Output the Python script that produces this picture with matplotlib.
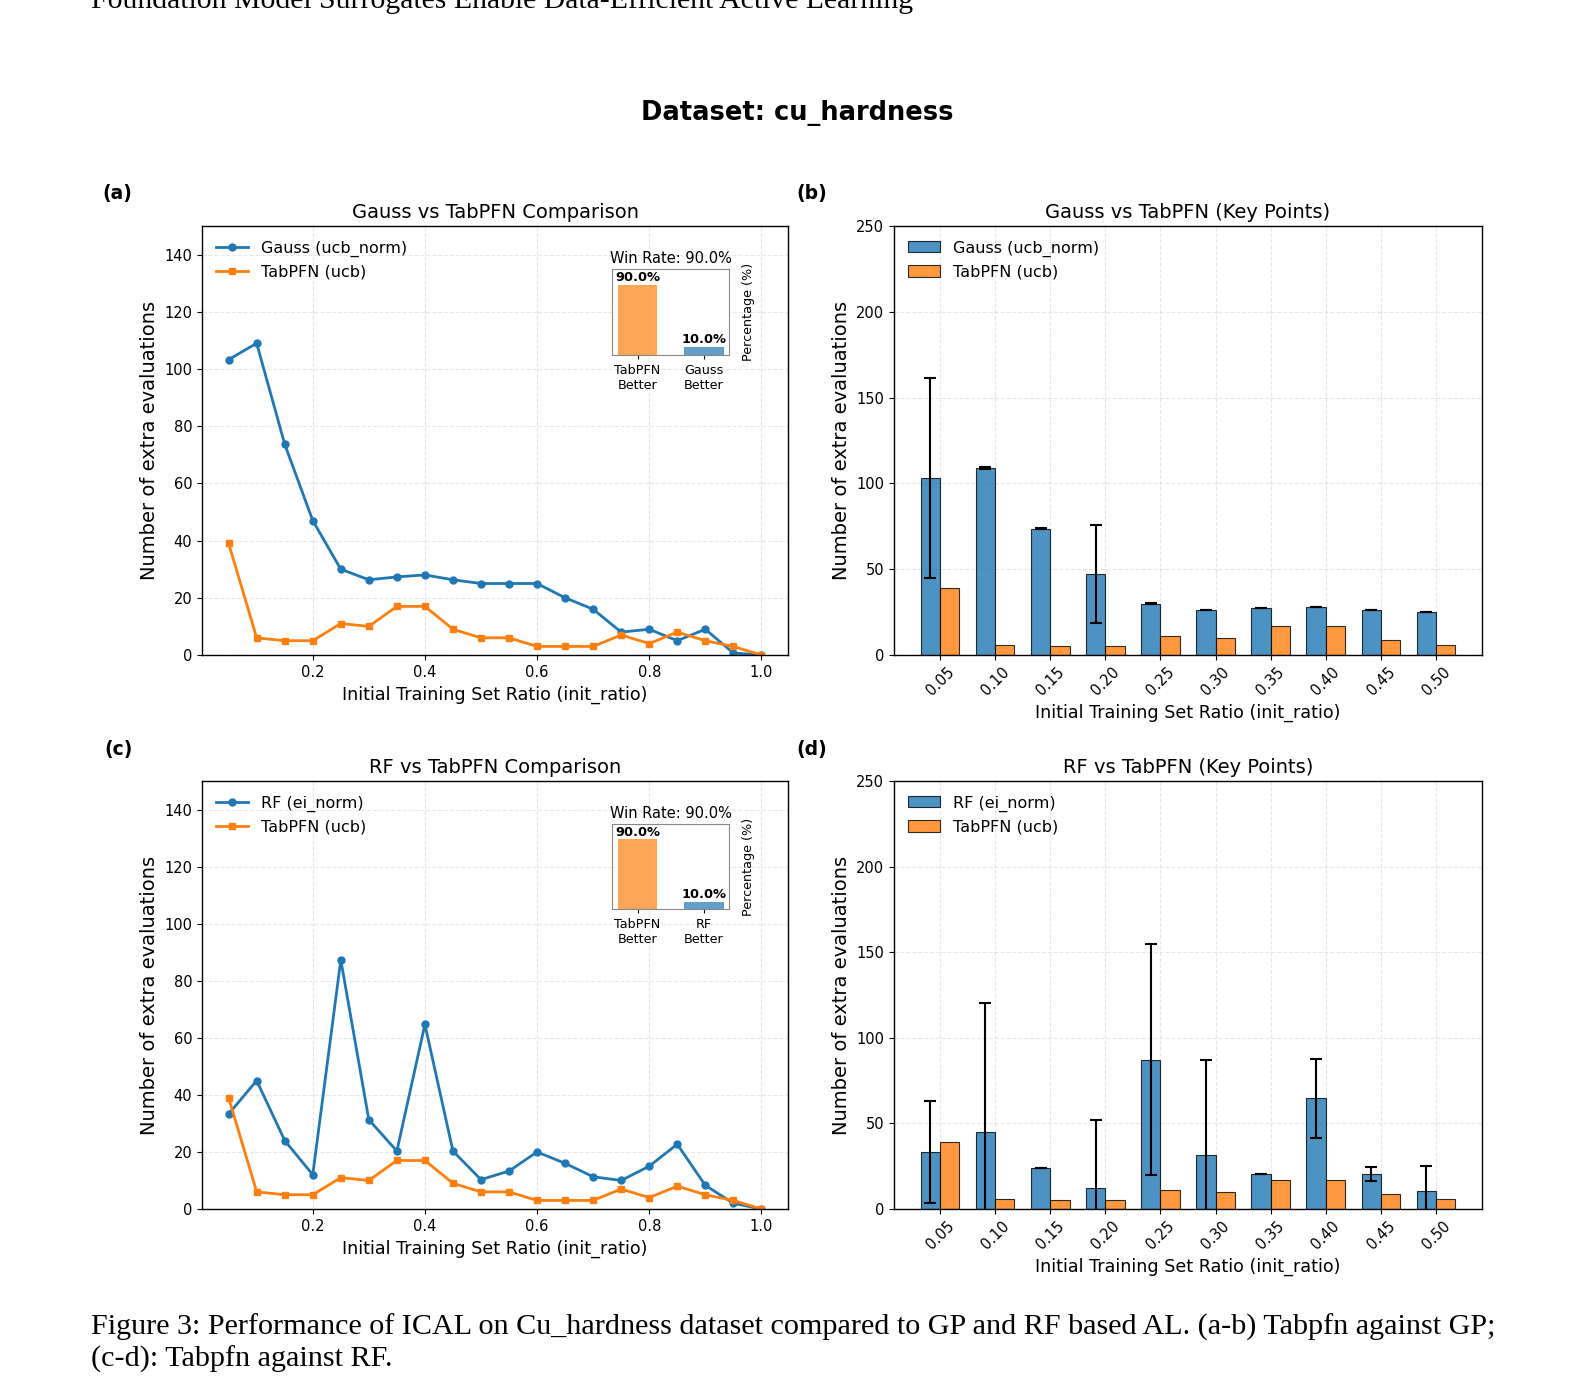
"""Recreates the cu_hardness comparison figure (Gauss / RF vs TabPFN)."""

import matplotlib.pyplot as plt

BLUE = "#1f77b4"
ORANGE = "#ff7f0e"

# line panels (a) and (c)
init_ratios = [0.05, 0.10, 0.15, 0.20, 0.25, 0.30, 0.35, 0.40, 0.45, 0.50,
               0.55, 0.60, 0.65, 0.70, 0.75, 0.80, 0.85, 0.90, 0.95, 1.00]
gauss_evals = [103.3, 109.0, 73.7, 47.0, 30.0, 26.3, 27.3, 28.0, 26.3, 25.0,
               25.0, 25.0, 20.0, 16.0, 8.0, 9.0, 5.0, 9.0, 0.7, 0.0]
rf_evals = [33.3, 45.0, 24.0, 12.0, 87.3, 31.3, 20.3, 64.7, 20.3, 10.3,
            13.3, 20.0, 16.0, 11.3, 10.0, 15.0, 22.7, 8.3, 2.0, 0.0]
tabpfn_evals = [39.0, 6.0, 5.0, 5.0, 11.0, 10.0, 17.0, 17.0, 9.0, 6.0,
                6.0, 3.0, 3.0, 3.0, 7.0, 4.0, 8.0, 5.0, 3.0, 0.0]

# bar panels (b) and (d): key points
key_labels = ["0.05", "0.10", "0.15", "0.20", "0.25",
              "0.30", "0.35", "0.40", "0.45", "0.50"]
gauss_key = [103.3, 109.0, 73.7, 47.0, 30.0, 26.3, 27.3, 28.0, 26.3, 25.0]
gauss_std = [58.3, 0.5, 0.2, 28.6, 0.3, 0.2, 0.2, 0.2, 0.2, 0.2]
rf_key = [33.3, 45.0, 24.0, 12.0, 87.3, 31.3, 20.3, 64.7, 20.3, 10.3]
rf_std = [30.0, 75.5, 0.2, 40.0, 67.3, 56.0, 0.0, 23.0, 4.0, 15.0]
tabpfn_key = [39.0, 6.0, 5.0, 5.0, 11.0, 10.0, 17.0, 17.0, 9.0, 6.0]

# win rate insets
win_labels_gauss = ["TabPFN\nBetter", "Gauss\nBetter"]
win_labels_rf = ["TabPFN\nBetter", "RF\nBetter"]
win_pct = [90.0, 10.0]

W, H = 1584, 1381
TICK_FS = 10.5
XLABEL_FS = 12.6
YLABEL_FS = 14.0
TITLE_FS = 14.0
LEGEND_FS = 11.5


def box(left, top, right, bottom):
    """Pixel box -> figure fraction rect."""
    return [left / W, 1 - bottom / H, (right - left) / W, (bottom - top) / H]


def style_axes(ax):
    ax.tick_params(labelsize=TICK_FS)
    ax.grid(True, linestyle="--", alpha=0.3)
    ax.set_axisbelow(True)
    for sp in ax.spines.values():
        sp.set_linewidth(1.0)
    ax.set_ylabel("Number of extra evaluations", fontsize=YLABEL_FS)
    ax.set_xlabel("Initial Training Set Ratio (init_ratio)", fontsize=XLABEL_FS)


def line_panel(ax, base, base_label, title, win_labels):
    ax.plot(init_ratios, base, marker="o", color=BLUE, lw=2, ms=5, label=base_label)
    ax.plot(init_ratios, tabpfn_evals, marker="s", color=ORANGE, lw=2, ms=5,
            label="TabPFN (ucb)")
    ax.set_ylim(0, 150)
    ax.set_yticks([0, 20, 40, 60, 80, 100, 120, 140])
    ax.set_title(title, fontsize=TITLE_FS)
    style_axes(ax)
    ax.legend(loc="upper left", fontsize=LEGEND_FS, frameon=False)

    ins = ax.inset_axes([0.70, 0.70, 0.20, 0.20])
    ins.bar([0, 1], win_pct, color=[ORANGE, BLUE], alpha=0.7, width=0.6)
    for i, v in enumerate(win_pct):
        ins.text(i, v + 1, f"{v:.1f}%", ha="center", va="bottom",
                 fontsize=9.4, fontweight="bold")
    ins.set_ylim(0, 110)
    ins.set_xticks([0, 1])
    ins.set_xticklabels(win_labels, fontsize=9.2)
    ins.set_yticks([])
    ins.yaxis.set_label_position("right")
    ins.set_ylabel("Percentage (%)", fontsize=9.2, labelpad=9)
    ins.set_title(f"Win Rate: {win_pct[0]:.1f}%", fontsize=10.5, pad=4)
    ins.tick_params(length=3)
    for sp in ins.spines.values():
        sp.set_color("#888888")


def bar_panel(ax, base, std, base_label, title):
    pos = list(range(len(key_labels)))
    w = 0.35
    ax.bar([p - w / 2 for p in pos], base, w, yerr=std, capsize=4,
           color=BLUE, alpha=0.8, edgecolor="black", linewidth=0.8,
           error_kw={"elinewidth": 1.5, "capthick": 1.5, "ecolor": "black"},
           label=base_label)
    ax.bar([p + w / 2 for p in pos], tabpfn_key, w,
           color=ORANGE, alpha=0.8, edgecolor="black", linewidth=0.8,
           label="TabPFN (ucb)")
    ax.set_xticks(pos)
    ax.set_xticklabels(key_labels, rotation=45)
    ax.set_ylim(0, 250)
    ax.set_title(title, fontsize=TITLE_FS)
    style_axes(ax)
    ax.legend(loc="upper left", fontsize=LEGEND_FS, frameon=False)


def fit_text(fig, x_px, y_px, s, width_px, **kw):
    t = fig.text(x_px / W, 1 - y_px / H, s, fontsize=20, va="baseline", **kw)
    r = fig.canvas.get_renderer()
    t.set_fontsize(20 * width_px / t.get_window_extent(r).width)
    return t


fig = plt.figure(figsize=(W / 100, H / 100), dpi=100)

ax_a = fig.add_axes(box(202, 226, 788, 655))
ax_b = fig.add_axes(box(894, 226, 1482, 655))
ax_c = fig.add_axes(box(202, 781, 788, 1209))
ax_d = fig.add_axes(box(894, 781, 1482, 1209))

line_panel(ax_a, gauss_evals, "Gauss (ucb_norm)", "Gauss vs TabPFN Comparison",
           win_labels_gauss)
bar_panel(ax_b, gauss_key, gauss_std, "Gauss (ucb_norm)", "Gauss vs TabPFN (Key Points)")
line_panel(ax_c, rf_evals, "RF (ei_norm)", "RF vs TabPFN Comparison", win_labels_rf)
bar_panel(ax_d, rf_key, rf_std, "RF (ei_norm)", "RF vs TabPFN (Key Points)")

for lab, x, y in [("(a)", 102, 194), ("(b)", 796, 194), ("(c)", 104, 749), ("(d)", 796, 749)]:
    fig.text(x / W, 1 - y / H, lab, fontsize=13.5, fontweight="bold", va="center")

fig.text(797 / W, 1 - 113 / H, "Dataset: cu_hardness", fontsize=18.5,
         fontweight="bold", ha="center", va="center")

serif = ["Liberation Serif", "DejaVu Serif"]
fit_text(fig, 91, 8, "Foundation Model Surrogates Enable Data-Efficient Active Learning",
         823, family=serif)
cap = fit_text(fig, 91, 1335, "Figure 3: Performance of ICAL on Cu_hardness dataset compared "
               "to GP and RF based AL. (a-b) Tabpfn against GP;", 1404, family=serif)
fig.text(91 / W, 1 - 1367 / H, "(c-d): Tabpfn against RF.", fontsize=cap.get_fontsize(),
         va="baseline", family=serif)

fig.savefig("out.png", dpi=100)
